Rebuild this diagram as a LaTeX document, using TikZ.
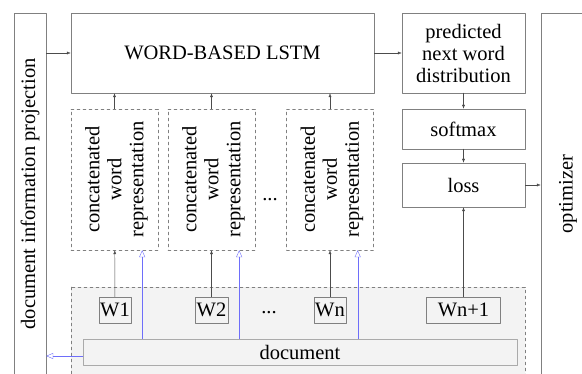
\documentclass[tikz,border=0pt]{standalone}
\usepackage{fontspec}
\setmainfont{Liberation Serif}
\usetikzlibrary{arrows.meta}
\usetikzlibrary{positioning}
\definecolor{boxgray}{RGB}{128,128,128}
\definecolor{docgray}{RGB}{170,170,170}
\definecolor{panelfill}{RGB}{243,243,243}
\definecolor{lineblue}{RGB}{110,110,250}
\tikzset{
	txt/.style={font=\fontsize{20.5}{22}\selectfont},
	plainbox/.style={draw=boxgray, txt, inner sep=0pt, align=center},
	catbox/.style={draw=boxgray, dashed, txt, inner sep=0pt, minimum width=87pt, minimum height=141pt},
	wbox/.style={draw=boxgray, fill=panelfill, txt, inner sep=0pt, minimum height=26pt},
	arr/.style={-{Latex[length=4pt, width=3pt]}, color=black!70},
	bluearr/.style={-{Triangle[open, length=7pt, width=6pt]}, color=lineblue}
}
\begin{document}
\begin{tikzpicture}[line cap=round, line join=round, x=1pt, y=-1pt]
	\useasboundingbox (0,0) rectangle (582,374);
	\clip (0,0) rectangle (582,374);
	% side panels
	\node[plainbox, minimum width=362pt, minimum height=32pt, rotate=90] (proj) at (30,194) {document information projection};
	\node[plainbox, minimum width=54pt, minimum height=362pt] (opt) at (568,194) {};
	\node[txt, rotate=90] at (opt.center) {optimizer};
	% upper row
	\node[plainbox, minimum width=303pt, minimum height=80pt] (lstm) at (222.5,53) {WORD-BASED LSTM};
	\node[plainbox, minimum width=123pt, minimum height=80pt] (pred) at (463.5,53) {predicted\\next word\\distribution};
	\node[plainbox, minimum width=123pt, minimum height=40pt] (soft) at (463.5,129) {softmax};
	\node[plainbox, minimum width=123pt, minimum height=44pt] (loss) at (463.5,185) {loss};
	% concatenated word representations
	\foreach \name/\x in {cat1/114.5, cat2/211.5, cat3/330}
		\node[catbox] (\name) at (\x,179.5) {};
	\foreach \name in {cat1, cat2, cat3}
		\node[txt, rotate=90, align=center] at ([xshift=2pt]\name.center) {concatenated\\word\\representation};
	\node[txt] (dotsA) at (270,200) {...};
	% input region
	\filldraw[draw=boxgray, fill=panelfill, dashed] (71,287) rectangle (525,390);
	\node[wbox, minimum width=32pt] (w1) at (115,310) {W1};
	\node[wbox, minimum width=33pt] (w2) at (211.5,310) {W2};
	\node[wbox, minimum width=32pt] (wn) at (330,310) {Wn};
	\node[wbox, minimum width=74pt] (wn1) at (463.5,310) {Wn+1};
	\node[txt] (dotsB) at (269,313) {...};
	\node[wbox, draw=docgray, minimum width=434pt] (doc) at (300,352) {document};
	% connectors
	\draw[arr] (proj.south |- lstm.west) -- (lstm.west);
	\draw[arr] (lstm.east) -- (pred.west);
	\draw[arr] (pred) -- (soft);
	\draw[arr] (soft) -- (loss);
	\draw[arr] (loss.east) -- (opt.west |- loss.east);
	\draw[arr] (wn1) -- (loss);
	\foreach \w/\c in {w1/cat1, w2/cat2, wn/cat3}{
		\draw[arr] (\w) -- (\c);
		\draw[arr] (\c.north) -- (\c.north |- lstm.south);
	}
	\foreach \c in {cat1, cat2, cat3}{
		\coordinate (\c tip) at ([xshift=-16pt]\c.south east);
		\draw[bluearr] (doc.north -| \c tip) -- (\c tip);
	}
	\coordinate (docout) at ([yshift=-4pt]doc.west);
	\draw[bluearr] (docout) -- (proj.south |- docout);
\end{tikzpicture}
\end{document}
